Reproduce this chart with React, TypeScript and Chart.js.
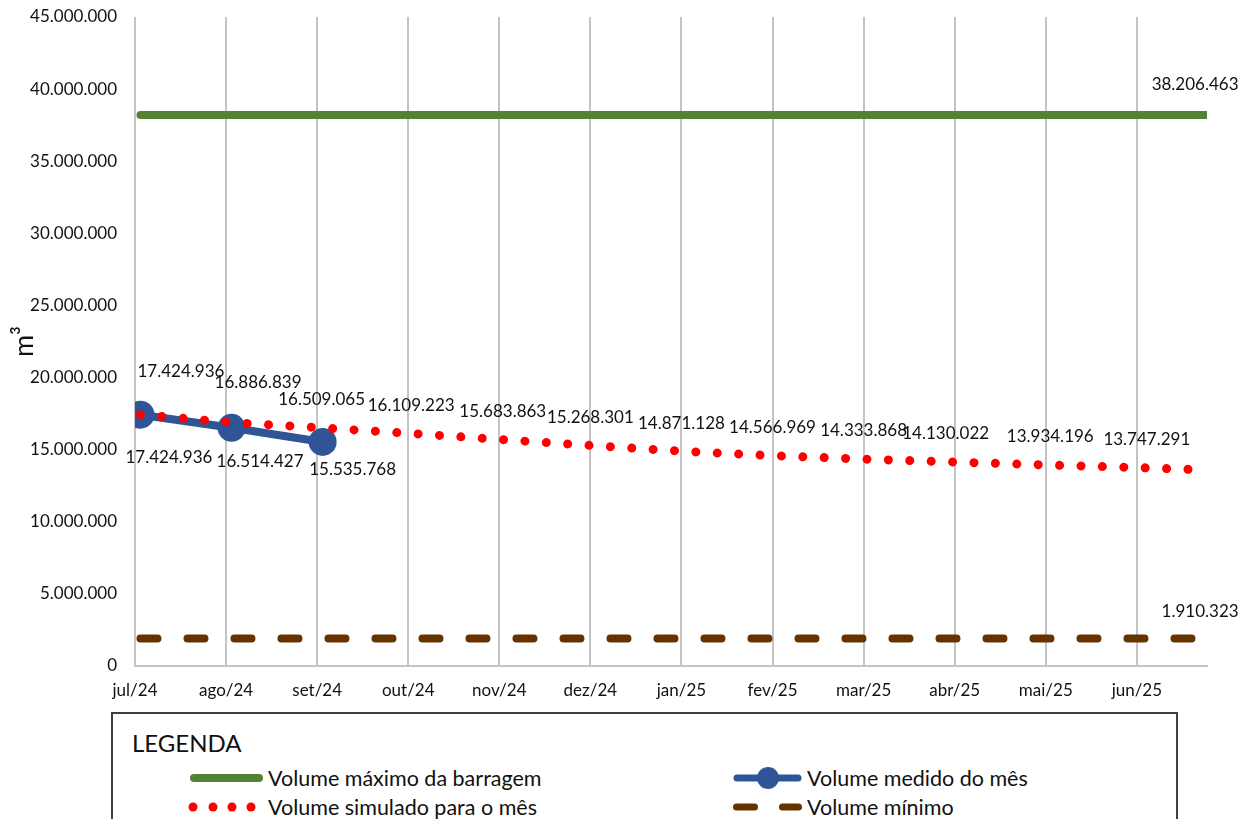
import React, { useEffect, useRef } from "react";
import { Chart, registerables } from "chart.js";

Chart.register(...registerables);

// ---------- data ----------
const months = ["jul/24", "ago/24", "set/24", "out/24", "nov/24", "dez/24", "jan/25", "fev/25", "mar/25", "abr/25", "mai/25", "jun/25"];
const yTickValues = [0, 5000000, 10000000, 15000000, 20000000, 25000000, 30000000, 35000000, 40000000, 45000000];
const measuredVolume = [17424936, 16514427, 15535768];
const simulatedVolume = [17424936, 16886839, 16509065, 16109223, 15683863, 15268301, 14871128, 14566969, 14333868, 14130022, 13934196, 13747291];
const simulatedVolumeEnd = 13590000;
const maxVolume = 38206463;
const minVolume = 1910323;

// ---------- layout constants ----------
const X_SHIFT = 0.06; // points sit slightly right of the month gridline
const X_END = 11.76;
const X_MAX = 11.77;
const FONT = "Lato, 'Noto Sans', sans-serif";

// label offsets (px) relative to the point
const simLabelDx = [40.5, 26.5, -1, -2.5, -2, -5.5, -5.5, -5.5, -5.5, -14.5, -1, 4.5];
const simLabelDy = [-42.7, -39.5, -28, -28.5, -28.5, -28.5, -28.5, -28.5, -28.5, -28.5, -28.5, -28.5];
const measLabelDx = [28.5, 28.5, 30];
const measLabelDy = [43, 34, 28];

const fmt = (n: number) => String(Math.round(n)).replace(/\B(?=(\d{3})+(?!\d))/g, ".");

export default function App() {
  const ref = useRef<HTMLCanvasElement>(null);

  useEffect(() => {
    const canvas = ref.current!;

    const labelPlugin = {
      id: "valueLabels",
      afterDatasetsDraw(chart: any) {
        const c = chart.ctx;
        c.save();
        c.font = `17px ${FONT}`;
        c.fillStyle = "#111";
        c.textAlign = "center";
        c.textBaseline = "middle";
        chart.data.datasets.forEach((ds: any, i: number) => {
          const labels = ds.valueLabels;
          if (!labels) return;
          const meta = chart.getDatasetMeta(i);
          labels.forEach((l: any) => {
            const el = meta.data[l.index];
            if (!el) return;
            c.fillText(fmt(ds.data[l.index].y), el.x + l.dx, el.y + l.dy);
          });
        });
        c.restore();
      },
    };

    const simData = simulatedVolume.map((y, i) => ({ x: i + X_SHIFT, y }));
    simData.push({ x: X_END, y: simulatedVolumeEnd });
    const measData = measuredVolume.map((y, i) => ({ x: i + X_SHIFT, y }));

    const chart = new Chart(canvas, {
      type: "line",
      data: {
        datasets: [
          {
            label: "Volume simulado para o mês",
            data: simData,
            borderColor: "#FF0000",
            borderWidth: 9,
            borderDash: [0.01, 21.4],
            borderCapStyle: "round",
            pointRadius: 0,
            tension: 0,
            order: 0,
            valueLabels: simulatedVolume.map((_, i) => ({ index: i, dx: simLabelDx[i], dy: simLabelDy[i] })),
          } as any,
          {
            label: "Volume medido do mês",
            data: measData,
            borderColor: "#2F5597",
            borderWidth: 8,
            borderCapStyle: "round",
            pointRadius: 14,
            pointHoverRadius: 14,
            pointBackgroundColor: "#2F5597",
            pointBorderWidth: 0,
            tension: 0,
            order: 1,
            valueLabels: measuredVolume.map((_, i) => ({ index: i, dx: measLabelDx[i], dy: measLabelDy[i] })),
          } as any,
          {
            label: "Volume máximo da barragem",
            data: [
              { x: X_SHIFT, y: maxVolume },
              { x: X_END, y: maxVolume },
            ],
            borderColor: "#548235",
            borderWidth: 8,
            borderCapStyle: "round",
            pointRadius: 0,
            order: 2,
            valueLabels: [{ index: 1, dx: -11, dy: -30 }],
          } as any,
          {
            label: "Volume mínimo",
            data: [
              { x: X_SHIFT, y: minVolume },
              { x: X_END, y: minVolume },
            ],
            borderColor: "#663300",
            borderWidth: 8,
            borderDash: [17, 30],
            borderCapStyle: "round",
            pointRadius: 0,
            order: 3,
            valueLabels: [{ index: 1, dx: -6, dy: -26.5 }],
          } as any,
        ],
      },
      options: {
        animation: false,
        responsive: false,
        devicePixelRatio: 1,
        layout: { autoPadding: false, padding: { top: 17, right: 46, left: 0, bottom: 0 } },
        plugins: { legend: { display: false }, tooltip: { enabled: false } },
        scales: {
          x: {
            type: "linear",
            min: 0,
            max: X_MAX,
            afterBuildTicks: (s: any) => {
              s.ticks = months.map((_, i) => ({ value: i }));
            },
            afterFit: (s: any) => {
              s.height = 39;
            },
            ticks: {
              autoSkip: false,
              maxRotation: 0,
              padding: 14,
              color: "#111",
              font: { family: FONT, size: 17 },
              callback: (v: any) => months[Math.round(Number(v))] ?? "",
            },
            grid: { display: true, color: "#C4C4C4", lineWidth: 2, drawTicks: false },
            border: { display: true, color: "#C4C4C4", width: 2 },
          },
          y: {
            type: "linear",
            min: 0,
            max: 45000000,
            afterBuildTicks: (s: any) => {
              s.ticks = yTickValues.map((v) => ({ value: v }));
            },
            afterFit: (s: any) => {
              s.width = 135;
            },
            ticks: {
              padding: 0,
              color: "#111",
              font: { family: FONT, size: 17 },
              callback: (v: any) => fmt(Number(v)),
            },
            grid: {
              display: true,
              drawOnChartArea: false,
              drawTicks: true,
              tickLength: 18,
              color: "rgba(0,0,0,0)",
            },
            border: { display: false },
            title: {
              display: true,
              text: "m³",
              color: "#111",
              font: { family: FONT, size: 27, lineHeight: 1.2 },
              padding: { top: 8, bottom: 0 },
            },
          },
        },
      },
      plugins: [labelPlugin],
    } as any);

    return () => chart.destroy();
  }, []);

  const legendText: React.CSSProperties = {
    position: "absolute",
    fontFamily: FONT,
    fontSize: 21.5,
    lineHeight: "22px",
    color: "#111",
    whiteSpace: "nowrap",
  };

  return (
    <div style={{ position: "absolute", left: 0, top: 0, width: 1253, height: 819, overflow: "hidden", background: "#fff" }}>
      <canvas ref={ref} width={1253} height={705} style={{ position: "absolute", left: 0, top: 0, width: 1253, height: 705 }} />
      <div
        style={{
          position: "absolute",
          left: 111,
          top: 712,
          width: 1067,
          height: 120,
          border: "2px solid #404040",
          boxSizing: "border-box",
          background: "#fff",
        }}
      >
        <div style={{ position: "absolute", left: 19, top: 17, fontFamily: FONT, fontSize: 24, lineHeight: "24px", color: "#111", whiteSpace: "nowrap" }}>
          LEGENDA
        </div>
        <svg style={{ position: "absolute", left: 0, top: 0 }} width={1063} height={116}>
          <line x1={81} y1={64} x2={146} y2={64} stroke="#548235" strokeWidth={8} strokeLinecap="round" />
          {[80, 100, 119, 138].map((cx) => (
            <circle key={cx} cx={cx} cy={93} r={4.5} fill="#FF0000" />
          ))}
          <line x1={624} y1={64} x2={685} y2={64} stroke="#2F5597" strokeWidth={7} strokeLinecap="round" />
          <circle cx={655} cy={64} r={11} fill="#2F5597" />
          <line x1={623.5} y1={93} x2={641.5} y2={93} stroke="#663300" strokeWidth={7} strokeLinecap="round" />
          <line x1={669.5} y1={93} x2={685.5} y2={93} stroke="#663300" strokeWidth={7} strokeLinecap="round" />
        </svg>
        <div style={{ ...legendText, left: 155, top: 52.5 }}>Volume máximo da barragem</div>
        <div style={{ ...legendText, left: 155, top: 81.5 }}>Volume simulado para o mês</div>
        <div style={{ ...legendText, left: 694, top: 52.5 }}>Volume medido do mês</div>
        <div style={{ ...legendText, left: 694, top: 81.5 }}>Volume mínimo</div>
      </div>
    </div>
  );
}
